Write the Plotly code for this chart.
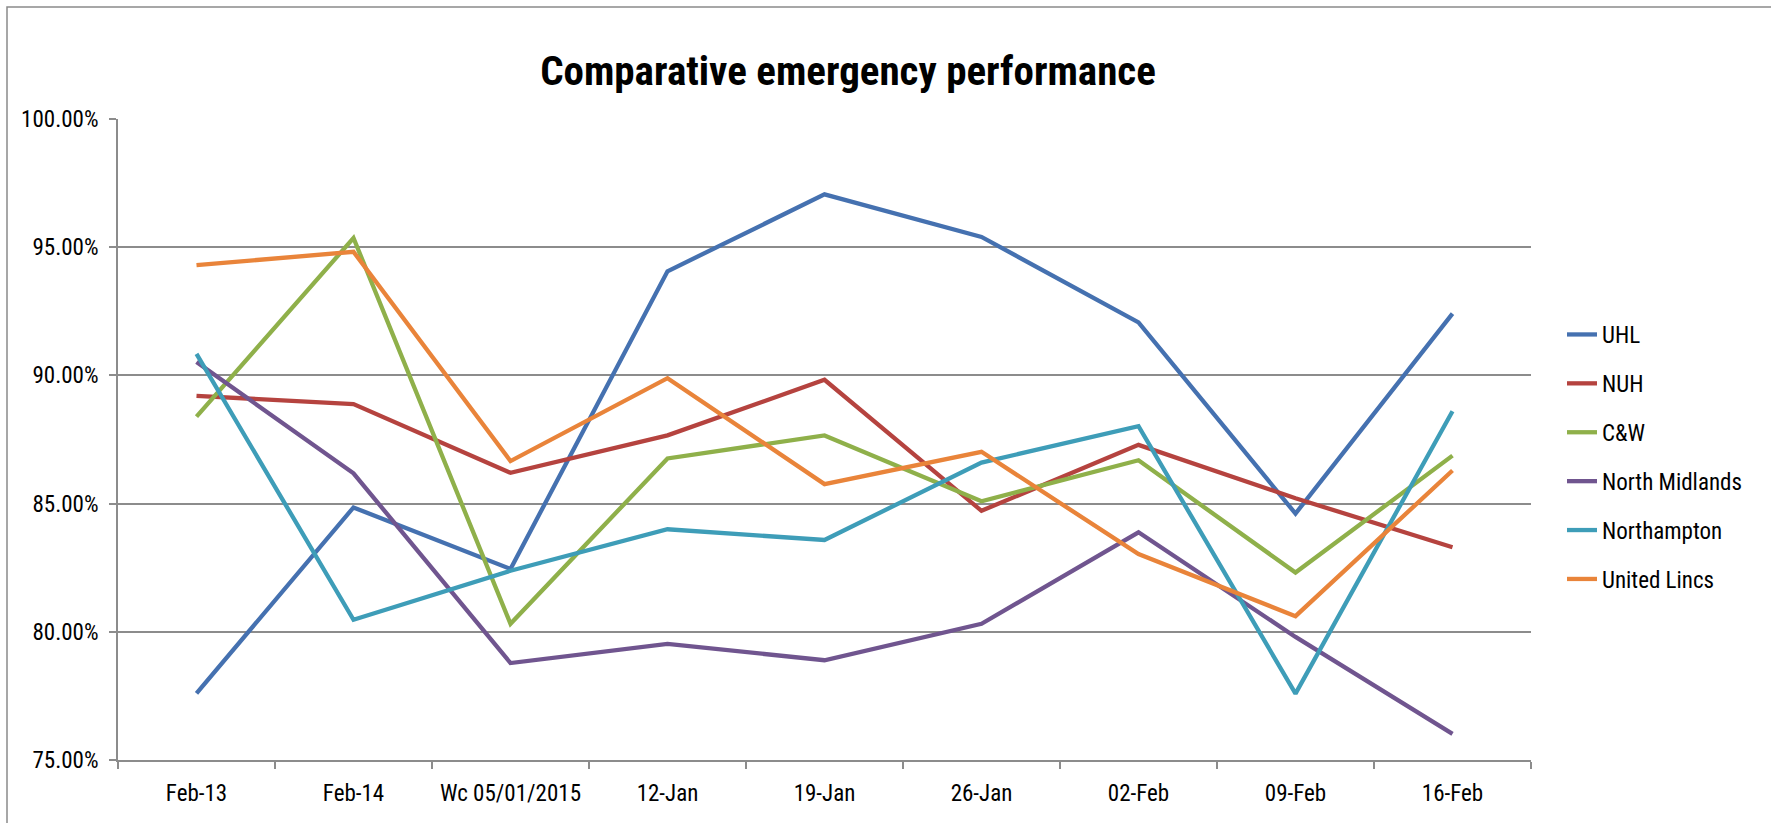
import plotly.graph_objects as go

categories = ["Feb-13", "Feb-14", "Wc 05/01/2015", "12-Jan", "19-Jan", "26-Jan", "02-Feb", "09-Feb", "16-Feb"]

uhl = [77.60, 84.85, 82.45, 94.06, 97.06, 95.40, 92.07, 84.61, 92.41]
nuh = [89.20, 88.88, 86.20, 87.66, 89.83, 84.72, 87.29, 85.21, 83.30]
cw = [88.39, 95.36, 80.31, 86.76, 87.66, 85.09, 86.69, 82.31, 86.87]
north_midlands = [90.52, 86.18, 78.78, 79.53, 78.89, 80.31, 83.88, 79.80, 76.02]
northampton = [90.84, 80.47, 82.38, 84.00, 83.58, 86.60, 88.02, 77.59, 88.60]
united_lincs = [94.30, 94.82, 86.66, 89.89, 85.76, 87.02, 83.03, 80.61, 86.29]

series_names = ["UHL", "NUH", "C&W", "North Midlands", "Northampton", "United Lincs"]
series_values = [uhl, nuh, cw, north_midlands, northampton, united_lincs]
series_colors = ["#4571B0", "#B5433F", "#8FB04A", "#70558F", "#3E9DB8", "#E9843A"]

FONT = "Liberation Sans Narrow, Arial Narrow, Roboto Condensed, DejaVu Sans Condensed, Liberation Sans, sans-serif"
GRID = "#8C8C8C"

fig = go.Figure()
for name, vals, col in zip(series_names, series_values, series_colors):
    fig.add_trace(go.Scatter(
        x=categories, y=vals, mode="lines", name=name, legendgroup=name,
        line=dict(color=col, width=4.3),
    ))

W, H = 1771, 823
L, R, T, B = 118, 240, 119, 63
pw, ph = W - L - R, H - T - B

def px_x(px):
    return (px - L) / pw

def px_y(py):
    return (H - B - py) / ph

fig.add_shape(type="rect", xref="paper", yref="paper",
              x0=px_x(7), x1=px_x(1800), y0=px_y(850), y1=px_y(7),
              line=dict(color="#8A8A8A", width=1.5), fillcolor="rgba(0,0,0,0)", layer="below")

fig.update_layout(
    width=W, height=H,
    margin=dict(l=L, r=R, t=T, b=B, autoexpand=False),
    paper_bgcolor="white", plot_bgcolor="white",
    font=dict(family=FONT, color="#000000", size=23),
    title=dict(text="<b>Comparative emergency performance</b>", xref="container", yref="container",
               x=848 / W, y=1 - 71 / H, xanchor="center", yanchor="middle",
               font=dict(family=FONT, size=41, color="#000000")),
    showlegend=True,
    legend=dict(xref="container", yref="container", x=1562 / W, y=1 - 457 / H,
                xanchor="left", yanchor="middle", font=dict(family=FONT, size=23),
                tracegroupgap=16, bgcolor="rgba(0,0,0,0)"),
    xaxis=dict(type="category", range=[-0.5, 8.5], tickson="boundaries", ticks="outside",
               ticklen=7, tickcolor=GRID, tickwidth=1.5, showline=True, linecolor=GRID, linewidth=1.8,
               showgrid=False, ticklabelstandoff=11, tickfont=dict(family=FONT, size=23)),
    yaxis=dict(range=[75, 100], dtick=5, tick0=75, tickformat=".2f", ticksuffix="%",
               ticks="outside", ticklen=7, tickcolor=GRID, tickwidth=1.5,
               showline=True, linecolor=GRID, linewidth=1.8, ticklabelstandoff=6,
               showgrid=True, gridcolor=GRID, gridwidth=1.5, zeroline=False,
               tickfont=dict(family=FONT, size=23)),
)

fig.write_html("out.html", config={"displayModeBar": False},
               post_script="document.body.style.margin='0';document.body.style.overflow='hidden';")
